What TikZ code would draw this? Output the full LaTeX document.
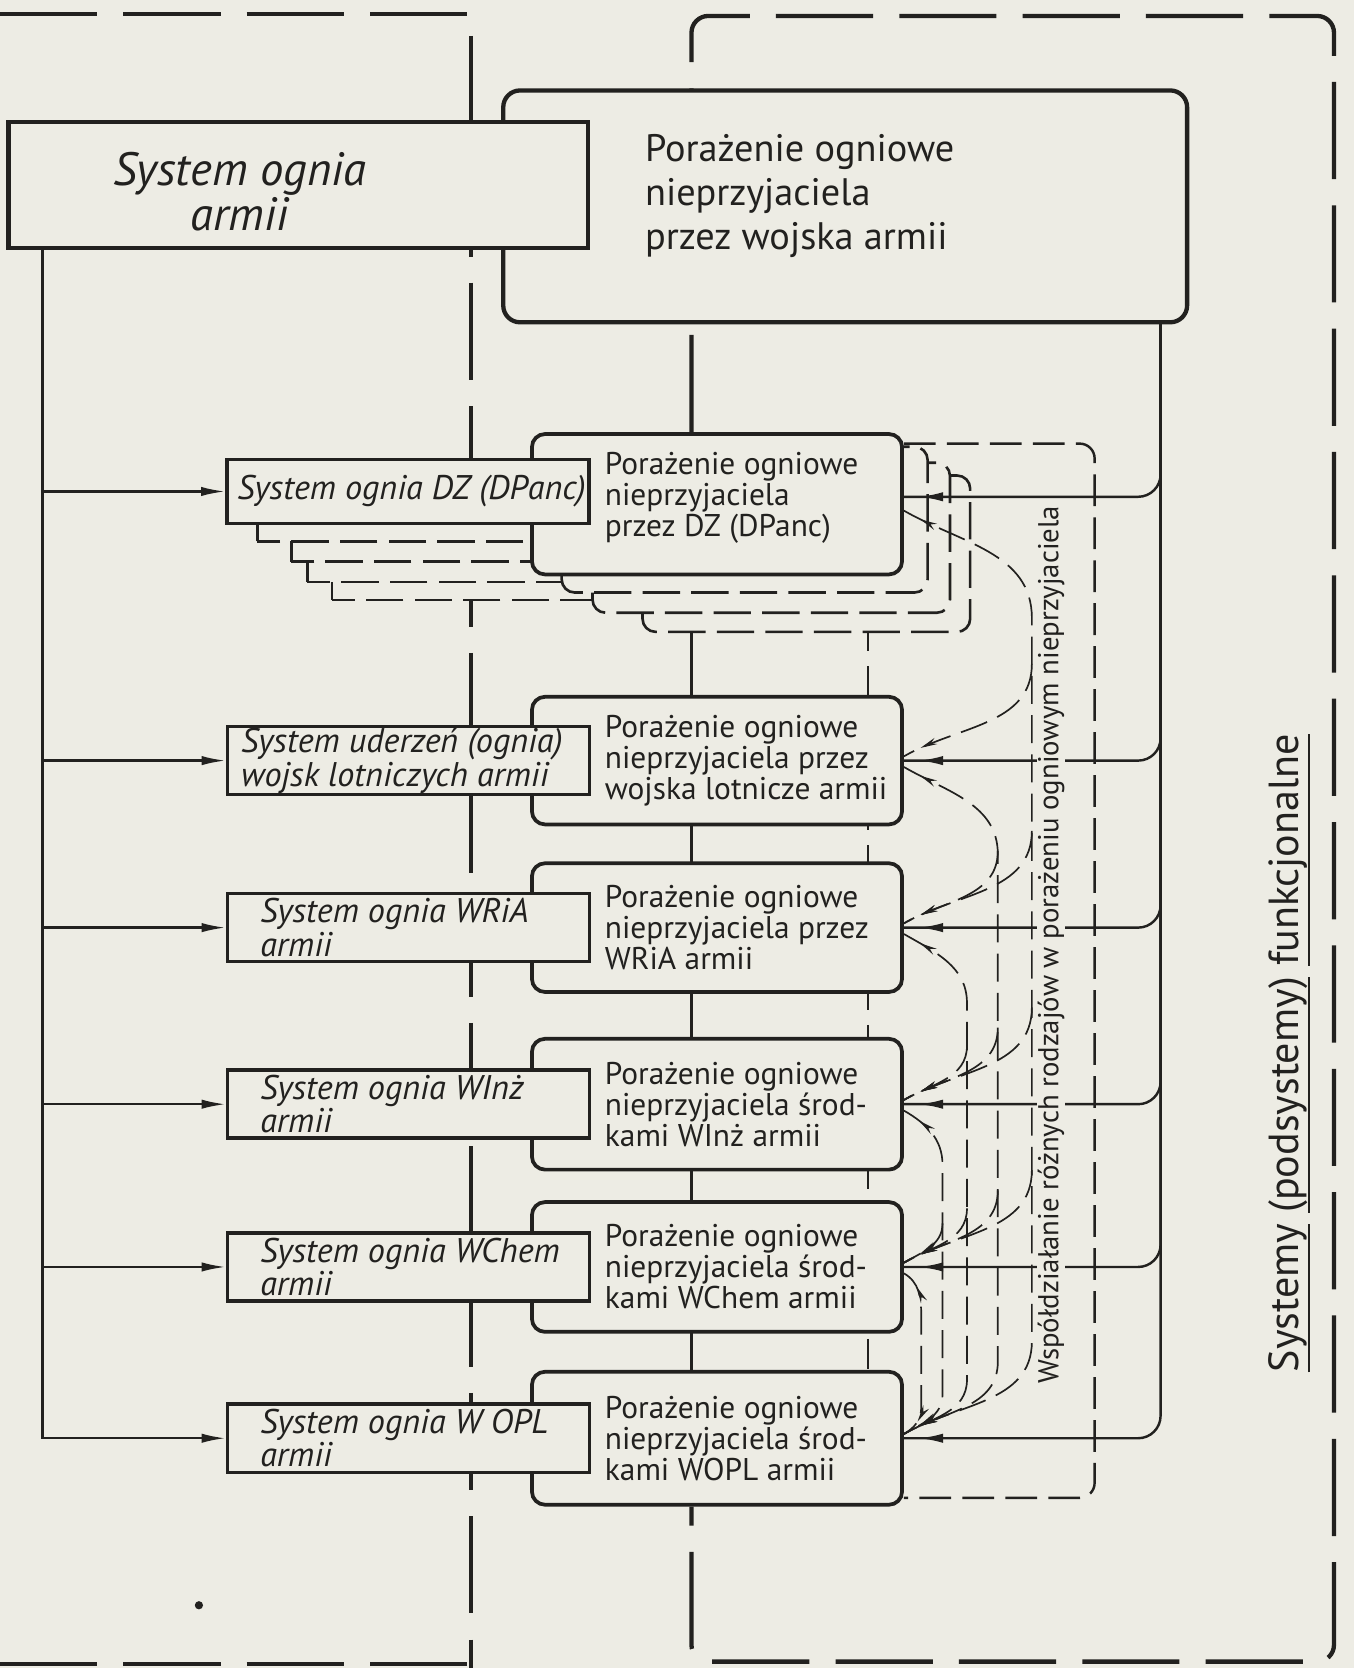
\documentclass[tikz,border=0pt]{standalone}
\usepackage{fontspec}
\setmainfont{PT Sans}
\usetikzlibrary{arrows.meta,backgrounds,decorations.markings,positioning}

\definecolor{paper}{RGB}{237,236,228}
\definecolor{ink}{RGB}{34,33,31}

\newsavebox{\ulbox}
\newcommand{\thickul}[1]{\sbox{\ulbox}{#1}\rlap{\rule[-6pt]{\wd\ulbox}{1.2pt}}\usebox{\ulbox}}

\tikzset{
  sysbox/.style={draw=ink, fill=paper, line width=1.9pt, inner sep=0pt,
    minimum width=6.8cm, minimum height=1.28cm},
  hitbox/.style={draw=ink, fill=paper, line width=2pt, inner sep=0pt,
    rounded corners=7pt, minimum width=6.96cm},
  bigsys/.style={sysbox, line width=2.3pt, minimum width=10.9cm, minimum height=2.36cm},
  bighit/.style={hitbox, line width=2.3pt, rounded corners=9pt,
    minimum width=12.86cm, minimum height=4.36cm},
  systext/.style={text=ink, inner sep=0pt, align=left,
    font=\itshape\fontsize{18.3pt}{16.5pt}\selectfont},
  hittext/.style={text=ink, inner sep=0pt, align=left,
    font=\fontsize{16.8pt}{16.6pt}\selectfont},
  bigsystext/.style={text=ink, inner sep=0pt, align=center,
    font=\itshape\fontsize{25pt}{22pt}\selectfont},
  bighittext/.style={text=ink, inner sep=0pt, align=left,
    font=\fontsize{20.5pt}{23.5pt}\selectfont},
  sysshadow/.style={draw=ink, fill=paper, line width=1.4pt, dash pattern=on 20pt off 6pt},
  hitshadow/.style={sysshadow, rounded corners=7pt},
  outerdash/.style={draw=ink, line width=2.3pt, dash pattern=on 52pt off 14pt},
  spineline/.style={draw=ink, line width=1.6pt},
  innerdash/.style={draw=ink, line width=1.3pt, dash pattern=on 16pt off 8pt},
  coopframe/.style={draw=ink, line width=1.3pt, dash pattern=on 17pt off 6pt, rounded corners=8pt},
  feed/.style={draw=ink, line width=1.3pt},
  feedtip/.style={postaction={decorate}, decoration={markings,
    mark=at position -8pt with {\arrow[ink]{Latex[length=13pt,width=5pt]}}}},
  coop/.style={draw=ink, line width=0.9pt, dash pattern=on 15pt off 6pt},
  cooptip/.style={postaction={decorate}, decoration={markings,
    mark=at position -10pt with {\arrow[ink]{Stealth[length=9pt,width=3.6pt]}}}},
  cooptips/.style={postaction={decorate}, decoration={markings,
    mark=at position 10pt with {\arrowreversed[ink]{Stealth[length=9pt,width=3.6pt]}},
    mark=at position -10pt with {\arrow[ink]{Stealth[length=9pt,width=3.6pt]}}}},
  cooplabel/.style={rotate=90, fill=paper, text=ink, inner xsep=1pt, inner ysep=0.5pt,
    font=\fontsize{15.4pt}{16pt}\selectfont},
  funclabel/.style={rotate=90, text=ink, inner sep=0pt,
    font=\fontsize{22.5pt}{24pt}\selectfont},
}

\begin{document}
\begin{tikzpicture}[x=0.02cm, y=0.02cm]
\useasboundingbox (0,0) rectangle (1273,-1568);
\coordinate (spine) at (650,0);
\coordinate (inner) at (816,0);
\coordinate (lbus) at (40,0);
\coordinate (rbus) at (1091,0);

\node[bighit] (r0) at (794.5,-194) {};
\node[bigsys] (l0) at (280.5,-174) {};

\foreach \x/\y in {312/564, 289/547, 274/528, 242/509}
  \draw[sysshadow] (\x,-\y) rectangle ++(339,60);
\draw[hitshadow] (604,-594) rectangle (912,-447);
\draw[hitshadow] (557,-576) rectangle (893,-435);
\draw[hitshadow] (528,-557) rectangle (872,-420);
\node[hitbox, minimum height=2.64cm] (r1) at (674,-474) {};
\node[sysbox, minimum height=1.2cm] (l1) at (383.5,-462) {};

\foreach \n/\y/\h in {2/715/2.4, 3/872/2.42, 4/1038/2.46, 5/1191/2.44, 6/1352/2.5}{
  \node[hitbox, minimum height=\h cm] (r\n) at (674,-\y) {};
  \node[sysbox] (l\n) at (384,-\y) {};
}

\begin{scope}[on background layer]
  \fill[paper] (0,0) rectangle (1273,-1568);
  \draw[outerdash] (0,-13) -- (443,-13) -- (443,-1568);
  \draw[outerdash] (0,-1564) -- (443,-1564);
  \draw[outerdash, rounded corners=9pt] (spine |- r1.north) -- (650,-15) -- (1254,-15)
    -- (1254,-1562) -- (650,-1562) -- (spine |- r6.south);
  \draw[spineline] (spine |- r1.south) -- (spine |- r6.north);
  \draw[innerdash] (inner |- r1.south) -- (inner |- r6.north);
\end{scope}

\draw[feed, -{Latex[length=13pt,width=5pt]}] (lbus |- l0.south) |- (l6.west);
\foreach \n in {1,...,5}
  \draw[feed, -{Latex[length=13pt,width=5pt]}] (lbus |- l\n.west) -- (l\n.west);

\draw[feed, feedtip, rounded corners=12pt] (rbus |- r0.south) |- ([yshift=0.14cm]r1.east);
\foreach \n in {2,...,6}
  \draw[feed, feedtip, rounded corners=12pt] (rbus |- r0.south) |- (r\n.east);

\draw[coopframe] ([yshift=1.14cm]r1.east) -- (1029,-417) -- (1029,-1408)
  -- ([yshift=-1.12cm]r6.east);

\foreach \i/\yi/\cx/\d in {1/474/970/91, 2/715/938/72, 3/872/909/55, 4/1038/886/41, 5/1191/866/29}{
  \draw[coop, cooptips] ([yshift=-0.12cm]r\i.east) to[out=-30,in=90] (\cx,{-(\yi+\d+16)})
    -- (\cx,{-(1352-\d)}) to[out=-90,in=30] ([yshift=0.08cm]r6.east);
  \foreach \j/\yj in {2/715, 3/872, 4/1038, 5/1191}{
    \ifnum\j>\i
      \draw[coop, cooptip] (\cx,{-(\yj-\d)}) to[out=-90,in=30] ([yshift=0.08cm]r\j.east);
    \fi
  }
}

\node[bigsystext, right=2cm of l0.west, yshift=-0.12cm] (l0t) {System ognia\\armii};
\node[bighittext, right=2.7cm of r0.west, yshift=0.2cm] (r0t) {Porażenie ogniowe\\nieprzyjaciela\\przez wojska armii};

\node[systext, right=0.22cm of l1.west] (l1t) {System ognia DZ (DPanc)};
\node[systext, right=0.28cm of l2.west] (l2t) {System uderzeń (ognia)\\wojsk lotniczych armii};
\node[systext, right=0.64cm of l3.west] (l3t) {System ognia WRiA\\armii};
\node[systext, right=0.64cm of l4.west] (l4t) {System ognia WInż\\armii};
\node[systext, right=0.64cm of l5.west] (l5t) {System ognia WChem\\armii};
\node[systext, right=0.64cm of l6.west] (l6t) {System ognia W OPL\\armii};

\node[hittext, right=1.4cm of r1.west, yshift=0.12cm] (r1t) {Porażenie ogniowe\\nieprzyjaciela\\przez DZ (DPanc)};
\node[hittext, right=1.4cm of r2.west] (r2t) {Porażenie ogniowe\\nieprzyjaciela przez\\wojska lotnicze armii};
\node[hittext, right=1.4cm of r3.west] (r3t) {Porażenie ogniowe\\nieprzyjaciela przez\\WRiA armii};
\node[hittext, right=1.4cm of r4.west] (r4t) {Porażenie ogniowe\\nieprzyjaciela środ-\\kami WInż armii};
\node[hittext, right=1.4cm of r5.west] (r5t) {Porażenie ogniowe\\nieprzyjaciela środ-\\kami WChem armii};
\node[hittext, right=1.4cm of r6.west] (r6t) {Porażenie ogniowe\\nieprzyjaciela środ-\\kami WOPL armii};

\node[cooplabel] (coop) at (988,-888) {Współdziałanie różnych rodzajów w porażeniu ogniowym nieprzyjaciela};
\node[funclabel] (func) at (1212,-990) {\thickul{Systemy} \thickul{(podsystemy)} \thickul{funkcjonalne}};

\fill[ink] (187,-1509) circle[radius=2.2pt];
\end{tikzpicture}
\end{document}
